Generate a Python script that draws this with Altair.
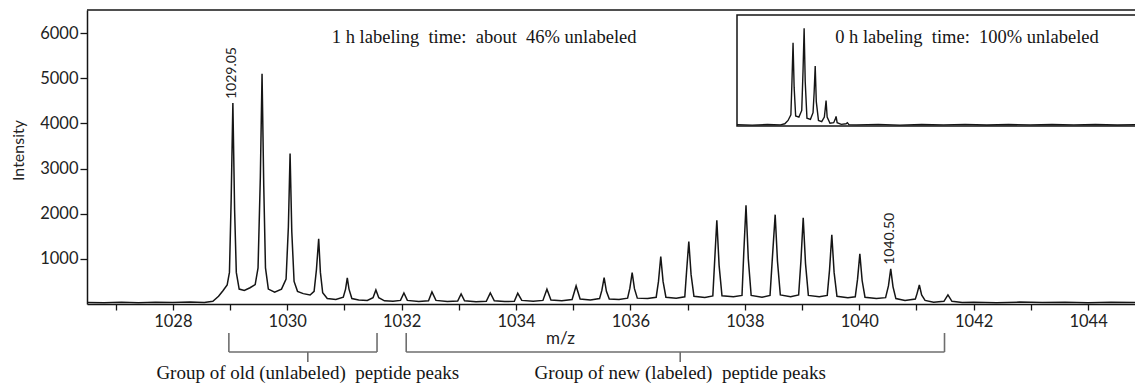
import altair as alt
import pandas as pd

# ---------------- data ----------------
main_mz = [
    1026.50, 1026.80, 1027.10, 1027.40, 1027.70, 1028.00, 1028.30, 1028.55, 1028.70, 1028.80,
    1028.88, 1028.95, 1028.99, 1029.02, 1029.05, 1029.08, 1029.11, 1029.16, 1029.25, 1029.35,
    1029.44, 1029.49, 1029.53, 1029.56, 1029.59, 1029.62, 1029.67, 1029.78, 1029.90, 1029.98,
    1030.02, 1030.05, 1030.08, 1030.12, 1030.18, 1030.28, 1030.40, 1030.47, 1030.51, 1030.55,
    1030.58, 1030.62, 1030.70, 1030.85, 1030.98, 1031.02, 1031.05, 1031.08, 1031.13, 1031.25,
    1031.40, 1031.50, 1031.55, 1031.60, 1031.70, 1031.85, 1031.98, 1032.04, 1032.10, 1032.30,
    1032.47, 1032.53, 1032.60, 1032.80, 1032.98, 1033.04, 1033.10, 1033.30, 1033.48, 1033.55,
    1033.62, 1033.80, 1033.97, 1034.03, 1034.10, 1034.30, 1034.47, 1034.54, 1034.61, 1034.80,
    1034.98, 1035.05, 1035.12, 1035.30, 1035.46, 1035.50, 1035.54, 1035.58, 1035.63, 1035.80,
    1035.95, 1035.99, 1036.03, 1036.07, 1036.12, 1036.30, 1036.45, 1036.49, 1036.53, 1036.57,
    1036.62, 1036.80, 1036.95, 1036.98, 1037.02, 1037.06, 1037.11, 1037.30, 1037.44, 1037.47,
    1037.51, 1037.55, 1037.60, 1037.80, 1037.95, 1037.98, 1038.02, 1038.06, 1038.11, 1038.30,
    1038.44, 1038.48, 1038.53, 1038.57, 1038.62, 1038.80, 1038.94, 1038.98, 1039.02, 1039.06,
    1039.11, 1039.30, 1039.44, 1039.48, 1039.52, 1039.56, 1039.61, 1039.80, 1039.93, 1039.97,
    1040.01, 1040.05, 1040.10, 1040.30, 1040.46, 1040.51, 1040.55, 1040.59, 1040.64, 1040.80,
    1040.98, 1041.01, 1041.05, 1041.09, 1041.15, 1041.30, 1041.48, 1041.55, 1041.62, 1041.80,
    1042.00, 1042.40, 1042.80, 1043.20, 1043.60, 1044.00, 1044.40, 1044.82,
]
main_int = [
    35, 28, 40, 30, 38, 32, 42, 35, 60, 170,
    300, 420, 700, 2300, 4450, 2100, 700, 330, 300, 360,
    430, 800, 2800, 5100, 2600, 800, 330, 260, 330, 550,
    1700, 3330, 1600, 500, 280, 230, 200, 280, 750, 1444,
    700, 250, 120, 100, 150, 330, 578, 330, 120, 90,
    80, 140, 311, 140, 70, 60, 80, 244, 80, 55,
    70, 267, 80, 55, 65, 222, 70, 50, 60, 244,
    70, 55, 60, 237, 80, 60, 80, 326, 90, 70,
    100, 400, 110, 90, 120, 300, 585, 280, 110, 100,
    130, 350, 696, 340, 130, 120, 150, 500, 1052, 500,
    150, 130, 160, 700, 1385, 650, 170, 145, 180, 900,
    1852, 850, 180, 160, 190, 1100, 2185, 1000, 190, 150,
    190, 1000, 1978, 950, 200, 160, 200, 950, 1911, 900,
    190, 160, 190, 750, 1533, 700, 170, 140, 160, 550,
    1111, 520, 150, 120, 140, 400, 778, 380, 120, 80,
    110, 230, 422, 200, 80, 40, 60, 200, 60, 35,
    40, 30, 42, 32, 38, 30, 40, 33,
]

inset_mz = [
    1026.50, 1027.20, 1027.90, 1028.50, 1028.70, 1028.85, 1028.98, 1029.03, 1029.08, 1029.13,
    1029.20, 1029.35, 1029.48, 1029.54, 1029.59, 1029.64, 1029.72, 1029.88, 1030.00, 1030.05,
    1030.10, 1030.15, 1030.25, 1030.40, 1030.52, 1030.56, 1030.60, 1030.65, 1030.78, 1030.95,
    1031.02, 1031.06, 1031.11, 1031.30, 1031.52, 1031.58, 1031.65, 1032.00, 1033.00, 1034.00,
    1035.00, 1036.00, 1037.00, 1038.00, 1039.00, 1040.00, 1041.00, 1042.00, 1043.00, 1044.00,
    1044.82,
]
inset_rel = [
    1.2, 0.8, 1.3, 1.0, 2.0, 5.0, 10.0, 40.0, 75.0, 35.0,
    9.0, 8.0, 14.0, 50.0, 88.0, 40.0, 7.0, 6.0, 12.0, 30.0,
    54.0, 22.0, 5.0, 4.0, 8.0, 15.0, 23.0, 8.0, 2.5, 3.0,
    6.0, 8.6, 3.0, 1.5, 2.0, 3.0, 1.2, 1.0, 1.5, 0.8,
    1.4, 1.0, 1.5, 0.9, 1.3, 1.0, 1.4, 1.0, 1.3, 0.9,
    1.2,
]

peak_label_mz = [1029.03, 1040.53]
peak_label_int = [4450, 778]
peak_label_text = ["1029.05", "1040.50"]

bracket_start = [1028.98, 1032.08]
bracket_end = [1031.57, 1041.49]
bracket_mid = [1030.36, 1036.87]
bracket_text = ["Group of old (unlabeled)\u00a0 peptide peaks",
                "Group of new (labeled)\u00a0 peptide peaks"]

main_title = "1 h labeling\u00a0 time:\u00a0 about\u00a0 46% unlabeled"
main_title_mz = [1030.78]
inset_title = "0 h labeling\u00a0 time:\u00a0 100% unlabeled"
inset_title_mz = [1031.02]
inset_title_rel = [80.2]

# ---------------- layout ----------------
W, H = 1048, 294
X_DOMAIN = [1026.5, 1044.82]
Y_DOMAIN = [0, 6510]
INK = "#151515"
TXT = "#222222"
SANS = "Lato"
SERIF = "Liberation Serif"

xs = alt.Scale(domain=X_DOMAIN, nice=False, zero=False)
ys = alt.Scale(domain=Y_DOMAIN, nice=False, zero=False)
xi = alt.Scale(domain=X_DOMAIN, range=[650, W], nice=False, zero=False)
yi = alt.Scale(domain=[0, 100], range=[116, 5], nice=False, zero=False)

main_df = pd.DataFrame({"mz": main_mz, "intensity": main_int})
inset_df = pd.DataFrame({"mz": inset_mz, "rel": inset_rel})
labels_df = pd.DataFrame({"mz": peak_label_mz, "intensity": peak_label_int, "t": peak_label_text})
br_df = pd.DataFrame({"start": bracket_start, "end": bracket_end, "mid": bracket_mid,
                      "t": bracket_text})

x_axis = alt.Axis(
    values=list(range(1027, 1045)),
    labelExpr="datum.value % 2 === 0 ? datum.label : ''",
    format="d", labelOverlap=False, labelFlush=False,
    tickSize=6, tickWidth=1.3, tickColor=INK,
    domainColor=INK, domainWidth=1.5,
    labelFont=SANS, labelFontSize=16.5, labelColor=TXT, labelPadding=3,
    grid=False,
    title="m/z", titleFont=SANS, titleFontSize=17, titleFontWeight="normal",
    titleColor=TXT, titleX=473, titleY=34, titleBaseline="middle", titleAlign="center",
)
y_axis = alt.Axis(
    values=[1000, 2000, 3000, 4000, 5000, 6000], format="d",
    tickSize=7, tickWidth=1.3, tickColor=INK,
    domainColor=INK, domainWidth=1.5,
    labelFont=SANS, labelFontSize=16.5, labelColor=TXT, labelPadding=2,
    grid=False,
    title="Intensity", titleFont=SANS, titleFontSize=16, titleFontWeight="normal",
    titleColor=TXT, titleAngle=270, titleX=-69, titleY=140,
    titleBaseline="middle", titleAlign="center",
)

main_line = alt.Chart(main_df).mark_line(color=INK, strokeWidth=1.5, clip=True).encode(
    x=alt.X("mz:Q", scale=xs, axis=x_axis),
    y=alt.Y("intensity:Q", scale=ys, axis=y_axis),
)

peak_labels = alt.Chart(labels_df).mark_text(
    angle=270, align="left", baseline="middle", dx=4,
    font=SANS, fontSize=14, color=TXT,
).encode(
    x=alt.X("mz:Q", scale=xs, axis=None),
    y=alt.Y("intensity:Q", scale=ys, axis=None),
    text="t:N",
)

title_text = alt.Chart(pd.DataFrame({"mz": main_title_mz, "t": [main_title]})).mark_text(
    align="left", baseline="middle", font=SERIF, fontSize=18.5, color=INK,
).encode(
    x=alt.X("mz:Q", scale=xs, axis=None),
    y=alt.value(27),
    text="t:N",
)

inset_box = alt.Chart(pd.DataFrame({"a": [X_DOMAIN[0]], "b": [X_DOMAIN[1] + 1.0],
                                    "lo": [0], "hi": [100]})).mark_rect(
    fill="white", stroke=INK, strokeWidth=1.5,
).encode(
    x=alt.X("a:Q", scale=xi, axis=None),
    x2="b:Q",
    y=alt.Y("lo:Q", scale=yi, axis=None),
    y2="hi:Q",
)

inset_line = alt.Chart(inset_df).mark_line(color=INK, strokeWidth=1.4).encode(
    x=alt.X("mz:Q", scale=xi, axis=None),
    y=alt.Y("rel:Q", scale=yi, axis=None),
)

inset_text = alt.Chart(pd.DataFrame({"mz": inset_title_mz, "rel": inset_title_rel,
                                     "t": [inset_title]})).mark_text(
    align="left", baseline="middle", font=SERIF, fontSize=18.5, color=INK,
).encode(
    x=alt.X("mz:Q", scale=xi, axis=None),
    y=alt.Y("rel:Q", scale=yi, axis=None),
    text="t:N",
)

GRAY = "#6e6e6e"
br_h = alt.Chart(br_df).mark_rule(color=GRAY, strokeWidth=1.6).encode(
    x=alt.X("start:Q", scale=xs, axis=None), x2="end:Q", y=alt.value(342),
)
br_l = alt.Chart(br_df).mark_rule(color=GRAY, strokeWidth=1.6).encode(
    x=alt.X("start:Q", scale=xs, axis=None), y=alt.value(323), y2=alt.value(342),
)
br_r = alt.Chart(br_df).mark_rule(color=GRAY, strokeWidth=1.6).encode(
    x=alt.X("end:Q", scale=xs, axis=None), y=alt.value(323), y2=alt.value(342),
)
br_m = alt.Chart(br_df).mark_rule(color=GRAY, strokeWidth=1.6).encode(
    x=alt.X("mid:Q", scale=xs, axis=None), y=alt.value(342), y2=alt.value(352),
)
br_t = alt.Chart(br_df).mark_text(
    align="center", baseline="middle", font=SERIF, fontSize=19, color=INK,
).encode(
    x=alt.X("mid:Q", scale=xs, axis=None), y=alt.value(363), text="t:N",
)

top_line = alt.Chart(alt.Data(values=[{}])).mark_rule(color=INK, strokeWidth=1.5).encode(
    x=alt.value(0), x2=alt.value(W), y=alt.value(0),
)

chart = alt.layer(
    main_line, peak_labels, title_text, inset_box, inset_line, inset_text,
    br_h, br_l, br_r, br_m, br_t, top_line,
).resolve_scale(x="independent", y="independent").properties(
    width=W, height=H,
    padding={"left": 87, "top": 10, "right": 0, "bottom": 80},
    autosize=alt.AutoSizeParams(type="none"),
    background="white",
).configure_view(stroke=None)

chart.save("out.html", embed_options={"renderer": "svg", "actions": False})
